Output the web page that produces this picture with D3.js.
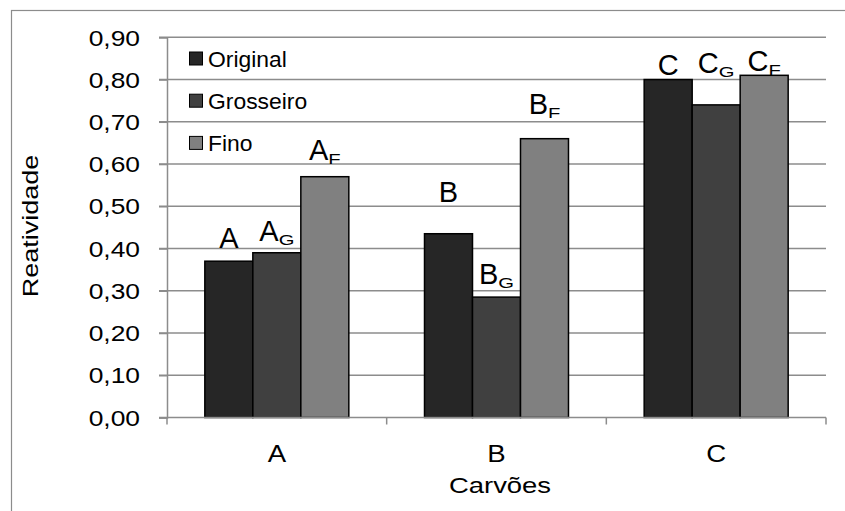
<!DOCTYPE html>
<html>
<head>
<meta charset="utf-8">
<script src="https://cdn.jsdelivr.net/npm/d3@7"></script>
<style>
  html, body { margin: 0; padding: 0; background: #fff; }
  svg { display: block; font-family: "Liberation Sans", Arial, sans-serif; }
</style>
</head>
<body>
<svg id="chart" width="845" height="511"></svg>
<script>
// Reactivity of each coal (Carvões) in its original, coarse and fine fractions
const categories = ["A", "B", "C"];
const series = ["Original", "Grosseiro", "Fino"];
const original = [0.37, 0.435, 0.80];
const grosseiro = [0.39, 0.285, 0.74];
const fino = [0.57, 0.66, 0.81];
const barLabels = [
  ["A", ""], ["A", "G"], ["A", "F"],
  ["B", ""], ["B", "G"], ["B", "F"],
  ["C", ""], ["C", "G"], ["C", "F"]
];
const yTicks = [0, 0.1, 0.2, 0.3, 0.4, 0.5, 0.6, 0.7, 0.8, 0.9];

const colors = ["#262626", "#404040", "#808080"];
const values = [original, grosseiro, fino];
const gridColor = "#8c8c8c";

const svg = d3.select("#chart");
const plot = { left: 167, right: 826, top: 37.3, bottom: 417.5 };

// text drawn with a horizontal stretch around its anchor point
function wideText(parent, x, y, str, size, sx, anchor) {
  return parent.append("text")
    .attr("transform", `translate(${x},${y}) scale(${sx},1)`)
    .attr("text-anchor", anchor || "start")
    .attr("font-size", size)
    .attr("fill", "#000")
    .text(str);
}

// outer chart frame (right and bottom edges run past the canvas)
svg.append("rect")
  .attr("x", 11.5).attr("y", 10.5)
  .attr("width", 900).attr("height", 600)
  .attr("fill", "none").attr("stroke", gridColor).attr("stroke-width", 1.2);

const y = d3.scaleLinear().domain([0, 0.9]).range([plot.bottom, plot.top]);
const x0 = d3.scaleBand().domain(categories)
  .range([plot.left, plot.right])
  .paddingInner(0.3445).paddingOuter(0.17225);
const x1 = d3.scaleBand().domain(series).range([0, x0.bandwidth()]);
const step = x0.step();
const fmt = v => d3.format(".2f")(v).replace(".", ",");

// horizontal gridlines
svg.append("g").selectAll("line")
  .data(yTicks.slice(1))
  .join("line")
  .attr("x1", plot.left - 8).attr("x2", plot.right)
  .attr("y1", d => y(d)).attr("y2", d => y(d))
  .attr("stroke", gridColor).attr("stroke-width", 1.5);

// y axis
const yAxis = svg.append("g")
  .attr("transform", `translate(${plot.left},0)`)
  .call(d3.axisLeft(y).tickValues(yTicks).tickFormat(fmt).tickSize(8));
yAxis.select(".domain").attr("stroke", gridColor).attr("stroke-width", 1.5);
yAxis.selectAll(".tick line").attr("stroke", gridColor).attr("stroke-width", 1.5);
yAxis.selectAll(".tick text")
  .attr("x", null).attr("dy", "0.35em")
  .attr("transform", "translate(-27,0) scale(1.2,1)")
  .attr("font-size", 22).attr("font-family", "Liberation Sans, Arial, sans-serif")
  .attr("fill", "#000");

// bars
const groups = svg.append("g").selectAll("g")
  .data(categories)
  .join("g")
  .attr("transform", d => `translate(${x0(d)},0)`);

groups.selectAll("rect")
  .data((c, ci) => series.map((s, si) => ({ s, si, ci, v: values[si][ci] })))
  .join("rect")
  .attr("x", d => x1(d.s))
  .attr("y", d => y(d.v))
  .attr("width", x1.bandwidth())
  .attr("height", d => y(0) - y(d.v))
  .attr("fill", d => colors[d.si])
  .attr("stroke", "#000").attr("stroke-width", 1.5);

// x axis baseline with category separators
const xAxis = svg.append("g");
xAxis.append("line")
  .attr("x1", plot.left - 8).attr("x2", plot.right)
  .attr("y1", y(0)).attr("y2", y(0))
  .attr("stroke", gridColor).attr("stroke-width", 1.5);
const seps = categories.map(c => x0(c) - step * x0.paddingInner() / 2)
  .concat([plot.right]);
xAxis.selectAll("line.sep")
  .data(seps)
  .join("line").attr("class", "sep")
  .attr("x1", d => d).attr("x2", d => d)
  .attr("y1", y(0)).attr("y2", y(0) + 7)
  .attr("stroke", gridColor).attr("stroke-width", 1.5);
categories.forEach(c => {
  wideText(xAxis, x0(c) + x0.bandwidth() / 2, 461.5, c, 23, 1.2, "middle");
});

// axis titles
wideText(svg, 500, 493, "Carvões", 22.5, 1.22, "middle");
svg.append("text")
  .attr("transform", "translate(38,226) rotate(-90) scale(1.2,1)")
  .attr("text-anchor", "middle").attr("font-size", 22.5)
  .text("Reatividade");

// bar labels with subscripts; lift is the gap between bar top and label baseline
const labelLift = [13, 12, 17, 32, 13, 25, 5, 32, 4];
const subScale = 1.35;
const labelLayer = svg.append("g");
categories.forEach((c, ci) => {
  series.forEach((s, si) => {
    const k = ci * 3 + si;
    const [main, sub] = barLabels[k];
    const cx = x0(c) + x1(s) + x1.bandwidth() / 2;
    const base = y(values[si][ci]) - labelLift[k];
    const g = labelLayer.append("g");
    const m = g.append("text").attr("font-size", 29).text(main);
    const mw = m.node().getComputedTextLength();
    let sw = 0, st = null;
    if (sub) {
      st = g.append("text").attr("font-size", 15).text(sub);
      sw = st.node().getComputedTextLength() * subScale;
    }
    const left = cx - (mw + sw) / 2;
    m.attr("transform", `translate(${left},${base})`);
    if (st) st.attr("transform", `translate(${left + mw},${base + 4}) scale(${subScale},1)`);
  });
});

// legend
const legend = svg.append("g");
series.forEach((s, i) => {
  const cy = 59 + i * 42.2;
  legend.append("rect")
    .attr("x", 189.5).attr("y", cy - 7)
    .attr("width", 13).attr("height", 13)
    .attr("fill", colors[i]).attr("stroke", "#000").attr("stroke-width", 1);
  wideText(legend, 208, cy + 8, s, 22, 1.04, "start");
});
</script>
</body>
</html>
